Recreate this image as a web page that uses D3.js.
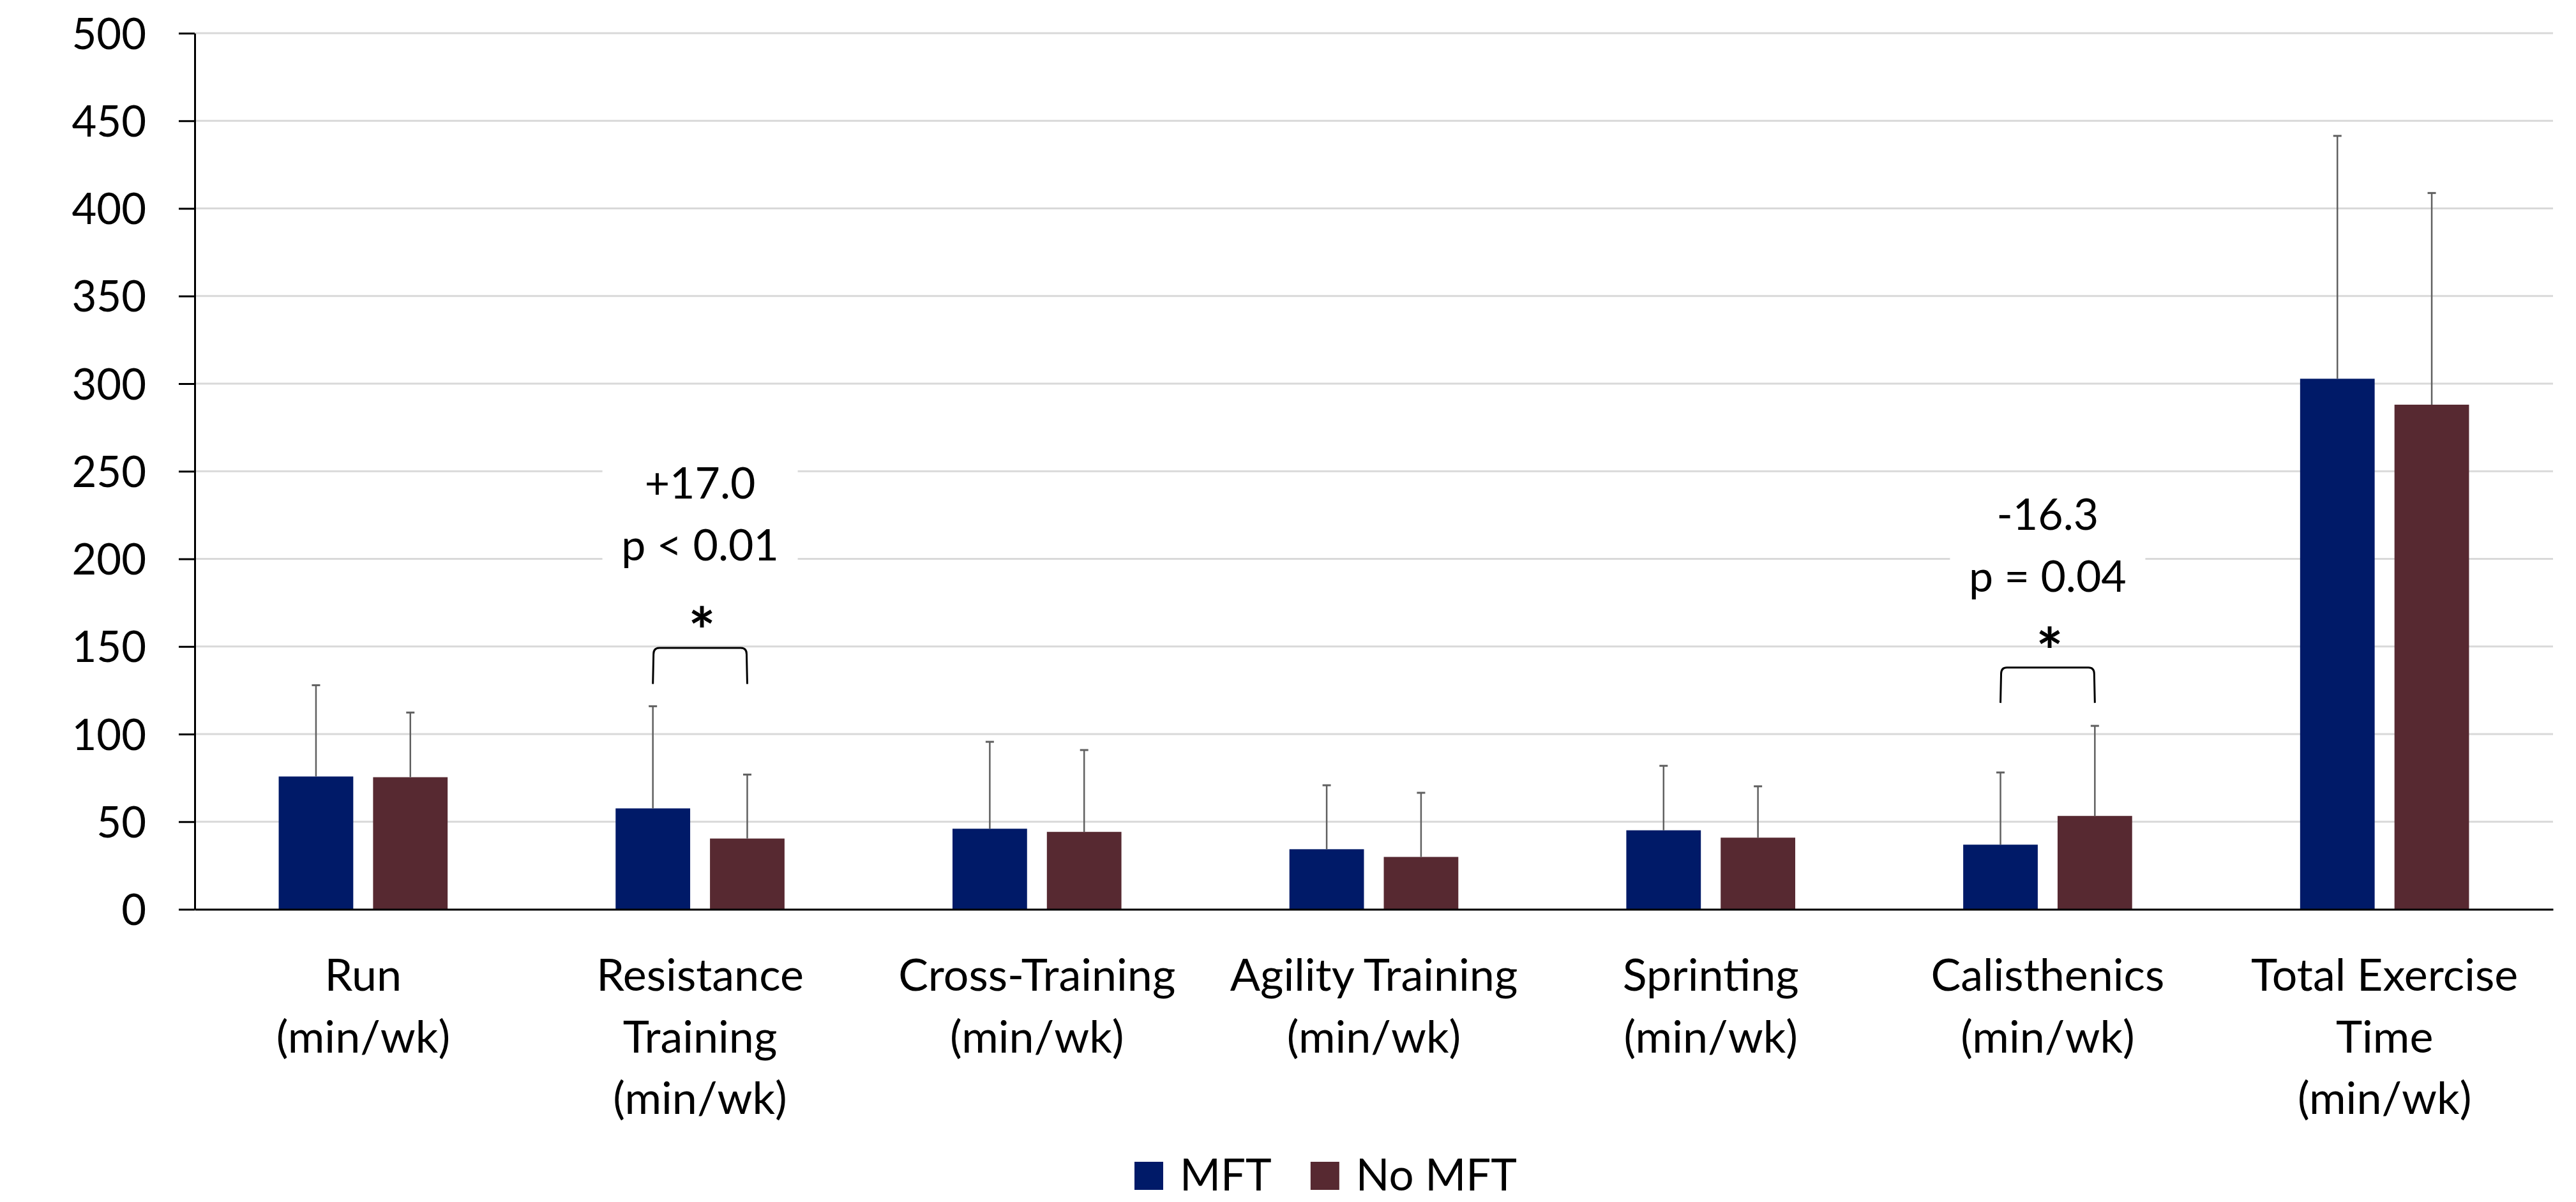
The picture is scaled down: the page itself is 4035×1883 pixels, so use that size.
<!DOCTYPE html>
<html><head><meta charset="utf-8">
<script src="https://cdn.jsdelivr.net/npm/d3@7"></script>
<style>
body{margin:0;background:#fff;}
svg{display:block;}
text{font-family:Lato,"Noto Sans",sans-serif;fill:#000;}
</style>
</head><body>
<svg id="c" width="4035" height="1883"></svg>
<script>
// ---- data ----
const categories = ["Run","Resistance Training","Cross-Training","Agility Training","Sprinting","Calisthenics","Total Exercise Time"];
const categoryLines = [["Run","(min/wk)"],["Resistance","Training","(min/wk)"],["Cross-Training","(min/wk)"],["Agility Training","(min/wk)"],["Sprinting","(min/wk)"],["Calisthenics","(min/wk)"],["Total Exercise","Time","(min/wk)"]];
const seriesNames = ["MFT","No MFT"];
const mftMean = [75.8, 57.6, 46.0, 34.3, 45.1, 36.9, 302.8];
const mftSD   = [52.1, 58.3, 49.6, 36.5, 36.8, 41.2, 138.6];
const noMean  = [75.4, 40.4, 44.2, 29.9, 40.9, 53.3, 288.0];
const noSD    = [36.9, 36.5, 46.7, 36.6, 29.3, 51.4, 120.8];
const yTicks  = [0,50,100,150,200,250,300,350,400,450,500];
const annoCategory = ["Resistance Training","Calisthenics"];
const annoDiff = ["+17.0","-16.3"];
const annoP = ["p < 0.01","p = 0.04"];
const annoBracketTop = [149.2, 138.0];
const annoBracketFoot = [128.6, 117.8];
const annoStar = [167.0, 155.6];
const annoTextLevel = [234.4, 216.6];

const colors = {"MFT":"#001a68","No MFT":"#572931"};

// ---- layout ----
const svg = d3.select("#c");
const plotLeft = 305, plotRight = 3999, plotTop = 52, plotBottom = 1424.5;

const y = d3.scaleLinear().domain([0,500]).range([plotBottom, plotTop]);
const x0 = d3.scaleBand().domain(categories).range([plotLeft, plotRight]).paddingInner(0).paddingOuter(0);
const x1 = d3.scaleBand().domain(seriesNames).range([0, x0.bandwidth()]).paddingInner(0.21).paddingOuter(0.89);

// gridlines
svg.append("g").selectAll("line").data(yTicks).join("line")
  .attr("x1", plotLeft).attr("x2", plotRight)
  .attr("y1", d=>y(d)).attr("y2", d=>y(d))
  .attr("stroke","#d9d9d9").attr("stroke-width",3);

// annotation white boxes
const annoG = svg.append("g");
annoCategory.forEach((c,i)=>{
  const cx = x0(c) + x0.bandwidth()/2;
  const yb = y(annoTextLevel[i]);
  annoG.append("rect").attr("x", cx-153).attr("y", yb-70).attr("width",306).attr("height", 202).attr("fill","#fff");
});

// bars
const rows = categories.map((c,i)=>[
  {cat:c, s:"MFT", v:mftMean[i], sd:mftSD[i]},
  {cat:c, s:"No MFT", v:noMean[i], sd:noSD[i]}
]).flat();

svg.append("g").selectAll("rect").data(rows).join("rect")
  .attr("x", d=>x0(d.cat)+x1(d.s))
  .attr("width", x1.bandwidth())
  .attr("y", d=>y(d.v))
  .attr("height", d=>y(0)-y(d.v))
  .attr("fill", d=>colors[d.s]);

// error bars
const eb = svg.append("g").attr("stroke","#606060").attr("stroke-width",2.5).attr("fill","none");
rows.forEach(d=>{
  const cx = x0(d.cat)+x1(d.s)+x1.bandwidth()/2;
  eb.append("line").attr("x1",cx).attr("x2",cx).attr("y1",y(d.v)).attr("y2",y(d.v+d.sd));
  eb.append("line").attr("x1",cx-6.5).attr("x2",cx+6.5).attr("y1",y(d.v+d.sd)).attr("y2",y(d.v+d.sd)).attr("stroke-width",3);
});

// axes
const yAxis = d3.axisLeft(y).tickValues(yTicks).tickSize(25).tickSizeOuter(0).tickPadding(51).tickFormat(d3.format("d"));
const yg = svg.append("g").attr("transform",`translate(${plotLeft},0)`).call(yAxis);
yg.select(".domain").attr("stroke","#000").attr("stroke-width",3);
yg.selectAll(".tick line").attr("stroke","#000").attr("stroke-width",3);
yg.selectAll(".tick text").attr("font-size",67).attr("font-family","Lato").attr("fill","#000").attr("dy","0.36em");

const xAxis = d3.axisBottom(x0).tickSize(0).tickSizeOuter(0).tickFormat("");
const xg = svg.append("g").attr("transform",`translate(0,${y(0)})`).call(xAxis);
xg.select(".domain").attr("stroke","#000").attr("stroke-width",3);

// category labels
const lab = svg.append("g");
categories.forEach((c,i)=>{
  const cx = x0(c)+x0.bandwidth()/2;
  const t = lab.append("text").attr("text-anchor","middle").attr("font-size",70);
  categoryLines[i].forEach((ln,j)=>{
    t.append("tspan").attr("x",cx).attr("y",1552 + j*96.7).text(ln);
  });
});

// annotations
annoCategory.forEach((c,i)=>{
  const cx = x0(c)+x0.bandwidth()/2;
  const L = x0(c)+x1("MFT")+x1.bandwidth()/2;
  const R = x0(c)+x1("No MFT")+x1.bandwidth()/2;
  const yt = y(annoBracketTop[i]), yf = y(annoBracketFoot[i]), r = 10;
  svg.append("path")
    .attr("d",`M${L},${yf} L${L+1},${yt+r} Q${L+1},${yt} ${L+r},${yt} L${R-r},${yt} Q${R-1},${yt} ${R-1},${yt+r} L${R},${yf}`)
    .attr("fill","none").attr("stroke","#000").attr("stroke-width",3);
  const yb = y(annoTextLevel[i]);
  svg.append("text").attr("x",cx).attr("y",yb).attr("text-anchor","middle").attr("font-size",68).text(annoDiff[i]);
  svg.append("text").attr("x",cx).attr("y",yb+97).attr("text-anchor","middle").attr("font-size",68).text(annoP[i]);
  const st = svg.append("text").attr("x",cx+3).attr("y",0).attr("text-anchor","middle")
    .attr("font-size",100).attr("font-weight","bold").text("*");
  const bb = st.node().getBBox();
  const glyphCenterOffset = bb.y + bb.height*0.33;
  st.attr("y", y(annoStar[i]) - glyphCenterOffset);
});

// legend
const lg = svg.append("g");
let lx = 1777;
seriesNames.forEach((s,i)=>{
  lg.append("rect").attr("x",lx).attr("y",1820).attr("width",45).attr("height",44).attr("fill",colors[s]);
  const t = lg.append("text").attr("x",lx+71).attr("y",1865).attr("font-size",69).text(s);
  lx = lx + 71 + t.node().getComputedTextLength() + 61;
});
</script>
</body></html>
